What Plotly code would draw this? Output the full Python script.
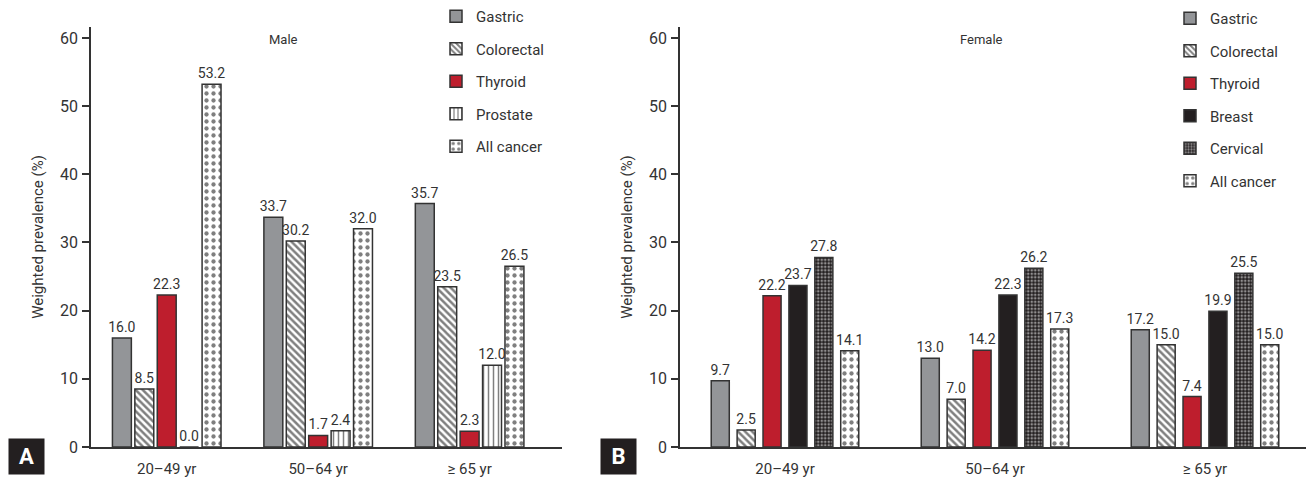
import plotly.graph_objects as go

age_groups = ["20–49 yr", "50–64 yr", "≥ 65 yr"]

male_gastric = [16.0, 33.7, 35.7]
male_colorectal = [8.5, 30.2, 23.5]
male_thyroid = [22.3, 1.7, 2.3]
male_prostate = [0.0, 2.4, 12.0]
male_all = [53.2, 32.0, 26.5]

female_gastric = [9.7, 13.0, 17.2]
female_colorectal = [2.5, 7.0, 15.0]
female_thyroid = [22.2, 14.2, 7.4]
female_breast = [23.7, 22.3, 19.9]
female_cervical = [27.8, 26.2, 25.5]
female_all = [14.1, 17.3, 15.0]

y_ticks = [0, 10, 20, 30, 40, 50, 60]

FONT = "Liberation Sans Narrow, Roboto, Arial, sans-serif"
TXT = "#333333"
EDGE = "#333333"

styles = {
    "Gastric": dict(color="#939598", pattern=None),
    "Colorectal": dict(color="white", pattern=dict(shape="\\", fgcolor="#000000", bgcolor="white", size=5, solidity=0.5)),
    "Thyroid": dict(color="#BE1E2D", pattern=None),
    "Prostate": dict(color="white", pattern=dict(shape="|", fgcolor="#000000", bgcolor="white", size=5, solidity=0.3)),
    "Breast": dict(color="#231F20", pattern=None),
    "Cervical": dict(color="#231F20", pattern=dict(shape=".", fgcolor="white", bgcolor="#231F20", size=3.5, solidity=0.45)),
    "All cancer": dict(color="white", pattern=dict(shape=".", fgcolor="#000000", bgcolor="white", size=7, solidity=0.3)),
}

fig = go.Figure()

def add(name, vals, xa, ya, leg, width):
    st = styles[name]
    marker = dict(color=st["color"], line=dict(color=EDGE, width=1.5))
    if st["pattern"] is not None:
        marker["pattern"] = st["pattern"]
    fig.add_trace(go.Bar(
        x=age_groups, y=vals, name=name, xaxis=xa, yaxis=ya, legend=leg,
        legendgroup=leg + name,
        marker=marker, width=width,
        texttemplate="%{y:.1f}", textposition="outside", constraintext="none",
        textfont=dict(size=14, color=TXT, family=FONT), cliponaxis=False,
    ))

male_series = [("Gastric", male_gastric), ("Colorectal", male_colorectal),
               ("Thyroid", male_thyroid), ("Prostate", male_prostate),
               ("All cancer", male_all)]
female_series = [("Gastric", female_gastric), ("Colorectal", female_colorectal),
                 ("Thyroid", female_thyroid), ("Breast", female_breast),
                 ("Cervical", female_cervical), ("All cancer", female_all)]

for n, v in male_series:
    add(n, v, "x", "y", "legend", 0.125)
for n, v in female_series:
    add(n, v, "x2", "y2", "legend2", 0.086)

W, H = 1314, 480
OFF = 8  # page body margin


def px(x):
    return (x - OFF) / W


def py(y):
    return 1 - (y - OFF) / H


ydom = [py(447), py(27)]

yaxis_common = dict(
    range=[0, 61.6], tickvals=y_ticks, showgrid=False, zeroline=False,
    showline=True, linecolor=EDGE, linewidth=1.5, ticks="outside", ticklen=7,
    tickwidth=1.5, tickcolor=EDGE, ticklabelstandoff=1,
    tickfont=dict(size=16, color=TXT, family=FONT),
    title=dict(text="Weighted prevalence (%)", font=dict(size=15, color=TXT, family=FONT), standoff=13),
    domain=ydom, fixedrange=True, automargin=False,
)
xaxis_common = dict(
    type="category", showgrid=False, zeroline=False, showline=True,
    linecolor=EDGE, linewidth=1.5, ticks="", ticklabelstandoff=7,
    tickfont=dict(size=15, color=TXT, family=FONT), fixedrange=True, automargin=False,
)

legend_common = dict(
    font=dict(size=15, color=TXT, family=FONT), bgcolor="rgba(0,0,0,0)",
    xref="paper", yref="paper", yanchor="top", xanchor="left",
    tracegroupgap=10, itemwidth=30, traceorder="grouped",
)

ann_font = dict(size=13, color=TXT, family=FONT)
box_font = dict(size=22, color="white", family="Roboto, Arial, sans-serif")

fig.update_layout(
    width=W, height=H, autosize=False,
    margin=dict(l=0, r=0, t=0, b=0, autoexpand=False),
    paper_bgcolor="white", plot_bgcolor="white",
    font=dict(family=FONT, color=TXT),
    barmode="group", bargap=0.26, bargroupgap=0,
    xaxis=dict(xaxis_common, domain=[px(91), px(562)], range=[-0.5, 2.61], anchor="y"),
    yaxis=dict(yaxis_common, anchor="x"),
    xaxis2=dict(xaxis_common, domain=[px(680), px(1310)], range=[-0.5, 2.5], anchor="y2"),
    yaxis2=dict(yaxis_common, anchor="x2"),
    legend=dict(legend_common, x=px(436), y=py(0)),
    legend2=dict(legend_common, x=px(1170), y=py(2)),
    showlegend=True,
    annotations=[
        dict(text="Male", x=px(283), y=py(40), xref="paper", yref="paper",
             xanchor="center", yanchor="middle", showarrow=False, font=ann_font),
        dict(text="Female", x=px(981), y=py(40), xref="paper", yref="paper",
             xanchor="center", yanchor="middle", showarrow=False, font=ann_font),
        dict(text="<b>A</b>", x=px(26.5), y=py(456.5), xref="paper", yref="paper",
             xanchor="center", yanchor="middle",
             showarrow=False, bgcolor="#231F20", width=33, height=33, borderpad=1,
             font=box_font),
        dict(text="<b>B</b>", x=px(618.5), y=py(456), xref="paper", yref="paper",
             xanchor="center", yanchor="middle",
             showarrow=False, bgcolor="#231F20", width=33, height=33, borderpad=1,
             font=box_font),
    ],
)

fig.write_html("out.html")
